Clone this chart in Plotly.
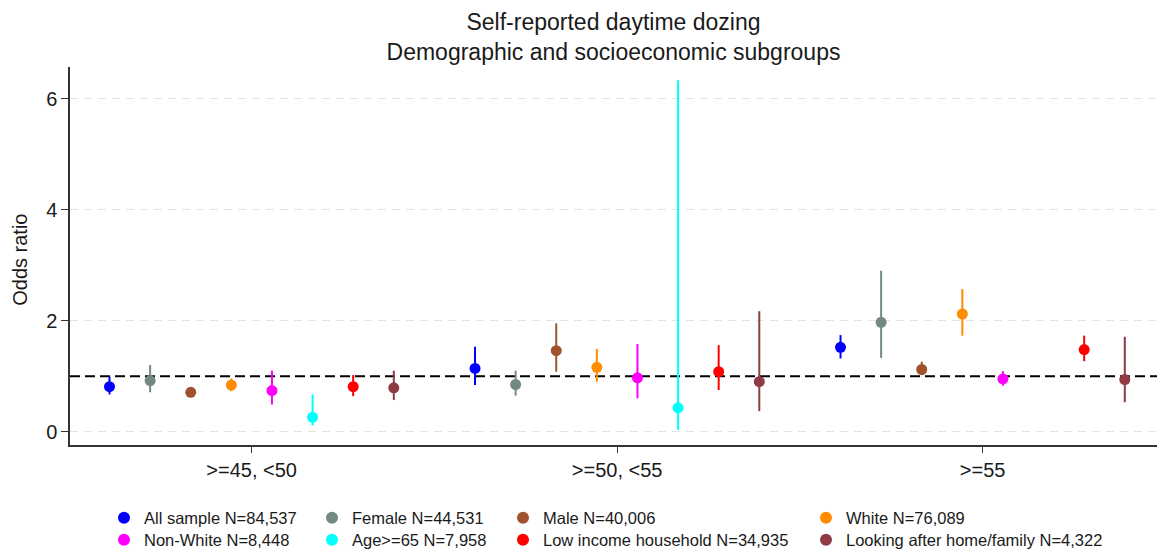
import plotly.graph_objects as go

# ---------------- data ----------------
groups = [">=45, <50", ">=50, <55", ">=55"]
series = [
    "All sample N=84,537",
    "Female N=44,531",
    "Male N=40,006",
    "White N=76,089",
    "Non-White N=8,448",
    "Age>=65 N=7,958",
    "Low income household N=34,935",
    "Looking after home/family N=4,322",
]
colors = ["#0000ff", "#738a80", "#a0522d", "#ff8c00",
          "#ff00ff", "#00ffff", "#ff0000", "#8f3a44"]

# odds ratio per series (rows) x age group (columns); None = not estimated
odds_ratio = [
    [0.81, 1.14, 1.52],
    [0.92, 0.85, 1.97],
    [0.71, 1.46, 1.12],
    [0.84, 1.16, 2.12],
    [0.74, 0.97, 0.95],
    [0.26, 0.43, None],
    [0.81, 1.08, 1.48],
    [0.79, 0.90, 0.94],
]
ci_lower = [
    [0.67, 0.84, 1.32],
    [0.71, 0.65, 1.33],
    [0.66, 1.08, 1.02],
    [0.73, 0.90, 1.73],
    [0.49, 0.60, 0.83],
    [0.11, 0.03, None],
    [0.64, 0.75, 1.27],
    [0.57, 0.37, 0.53],
]
ci_upper = [
    [0.99, 1.53, 1.74],
    [1.20, 1.10, 2.90],
    [0.76, 1.95, 1.26],
    [0.96, 1.49, 2.57],
    [1.10, 1.58, 1.09],
    [0.67, 6.33, None],
    [1.02, 1.56, 1.73],
    [1.10, 2.17, 1.71],
]
y_ticks = [0, 2, 4, 6]
reference_or = 1

# ---------------- figure ----------------
FONT = "Liberation Sans, Arial, sans-serif"
TXT = "#1a1a1a"
W, H = 1157, 552
ML, MR, MT, MB = 70, 0, 67, 107
n = len(series)
fig = go.Figure()

legend_keys = ["legend"] + ["legend%d" % k for k in range(2, n + 1)]
for i, name in enumerate(series):
    xs, ys, up, dn = [], [], [], []
    for g in range(len(groups)):
        v = odds_ratio[i][g]
        if v is None:
            continue
        xs.append(g + (i - (n - 1) / 2) / 9)
        ys.append(v)
        up.append(ci_upper[i][g] - v)
        dn.append(v - ci_lower[i][g])
    fig.add_trace(go.Scatter(
        x=xs, y=ys, mode="markers", name=name,
        marker=dict(color=colors[i], size=11),
        error_y=dict(type="data", symmetric=False, array=up, arrayminus=dn,
                     color=colors[i], thickness=2, width=0),
        legend=legend_keys[i],
        showlegend=True,
    ))

fig.add_shape(type="line", xref="paper", x0=0, x1=1, yref="y",
              y0=reference_or, y1=reference_or,
              line=dict(color="black", width=2, dash="10px,5px"), layer="below")

# y-axis title as a rotated annotation
fig.add_annotation(text="Odds ratio", textangle=-90, showarrow=False,
                   xref="paper", x=(20 - ML) / (W - ML - MR), xanchor="center",
                   yref="paper", y=0.49, yanchor="middle",
                   font=dict(family=FONT, size=20, color=TXT))

# legend placed in 4 columns x 2 rows (one small legend per entry)
col_dot_px = [125, 333, 524, 827]
row_y_px = [518, 540]
legends = {}
for i, key in enumerate(legend_keys):
    c, r = i % 4, i // 4
    legends[key] = dict(
        orientation="v", xref="container", yref="container",
        xanchor="left", yanchor="middle", bgcolor="rgba(0,0,0,0)",
        x=(col_dot_px[c] - 21) / W, y=1 - row_y_px[r] / H,
        font=dict(family=FONT, size=16.5, color=TXT),
        itemsizing="constant",
    )

fig.update_layout(
    width=W, height=H,
    margin=dict(l=ML, r=MR, t=MT, b=MB, autoexpand=False),
    paper_bgcolor="white", plot_bgcolor="white",
    font=dict(family=FONT, color=TXT),
    title=dict(
        text="Self-reported daytime dozing<br>Demographic and socioeconomic subgroups",
        x=0.5, xref="paper", xanchor="center",
        y=1 - 30 / H, yref="container", yanchor="top",
        font=dict(family=FONT, size=23, color=TXT),
    ),
    xaxis=dict(
        range=[-0.497, 2.477], tickmode="array", tickvals=list(range(len(groups))),
        ticktext=groups, showgrid=False, zeroline=False,
        showline=True, linecolor="#333333", linewidth=1.5,
        ticks="outside", ticklen=6, tickcolor="#333333",
        tickfont=dict(family=FONT, size=20, color=TXT),
    ),
    yaxis=dict(
        range=[-0.24, 6.57], tickmode="array", tickvals=y_ticks,
        showgrid=True, gridcolor="#e4e4e4", griddash="8px,6px", gridwidth=1,
        zeroline=False, showline=True, linecolor="#333333", linewidth=1.5,
        ticks="outside", ticklen=7, tickcolor="#333333",
        tickfont=dict(family=FONT, size=20, color=TXT),
    ),
    **legends,
)

fig.write_html("out.html")
